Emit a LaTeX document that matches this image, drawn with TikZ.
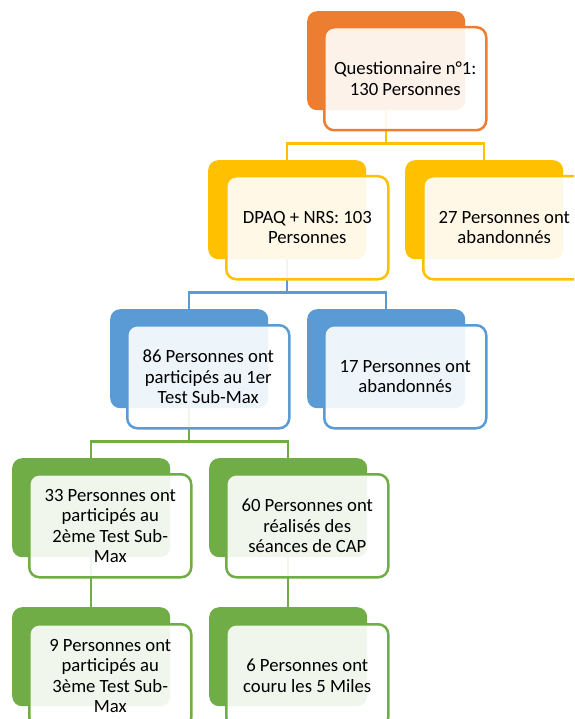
\documentclass[tikz,border=0pt]{standalone}
\usepackage{fontspec}
\setmainfont{Carlito}
\definecolor{corange}{HTML}{ED7D31}
\definecolor{cjaune}{HTML}{FFC000}
\definecolor{cbleu}{HTML}{5B9BD5}
\definecolor{cvert}{HTML}{70AD47}
\tikzset{
  fond/.style={fill=#1, rounded corners=10pt, minimum width=158pt,
    minimum height=99pt, inner sep=0pt, anchor=north west},
  carte/.style={draw=#1, line width=2.5pt, fill=white, fill opacity=0.9,
    text opacity=1, text=black, rounded corners=10pt, minimum width=162pt,
    minimum height=103pt, inner sep=2pt, anchor=north west, align=center},
  lien/.style={draw=#1, line width=2.5pt}
}
\begin{document}
\begin{tikzpicture}[x=1pt,y=-1pt,font=\fontsize{18.7}{20.5}\selectfont]
  \clip (0,0) rectangle (574,719);

  % fonds
  \node[fond=corange] (questf) at (307,11) {};
  \node[fond=cjaune] (dpaqf) at (208,160) {};
  \node[fond=cjaune] (aband1f) at (405,160) {};
  \node[fond=cbleu] (part1f) at (110,309) {};
  \node[fond=cbleu] (aband2f) at (307,309) {};
  \node[fond=cvert] (part2f) at (12,458) {};
  \node[fond=cvert] (capf) at (209,458) {};
  \node[fond=cvert] (part3f) at (12,607) {};
  \node[fond=cvert] (milesf) at (209,607) {};

  % liens
  \draw[lien=cjaune] (questf.south) -- ++(0,33) -| (dpaqf.north);
  \draw[lien=cjaune] (questf.south) -- ++(0,33) -| (aband1f.north);
  \draw[lien=cbleu] (dpaqf.south) -- ++(0,33) -| (part1f.north);
  \draw[lien=cbleu] (dpaqf.south) -- ++(0,33) -| (aband2f.north);
  \draw[lien=cvert] (part1f.south) -- ++(0,33) -| (part2f.north);
  \draw[lien=cvert] (part1f.south) -- ++(0,33) -| (capf.north);
  \draw[lien=cvert] (part2f.south) -- (part3f.north);
  \draw[lien=cvert] (capf.south) -- (milesf.north);

  % cartes
  \node[carte=corange] (quest) at (323,26) {Questionnaire n°1:\\130 Personnes};
  \node[carte=cjaune] (dpaq) at (225,175) {DPAQ + NRS: 103\\Personnes};
  \node[carte=cjaune] (aband1) at (422,175) {27 Personnes ont\\abandonnés};
  \node[carte=cbleu] (part1) at (126,324) {86 Personnes ont\\participés au 1er\\Test Sub-Max};
  \node[carte=cbleu] (aband2) at (323,324) {17 Personnes ont\\abandonnés};
  \node[carte=cvert] (part2) at (28,473) {33 Personnes ont\\participés au\\2ème Test Sub-\\Max};
  \node[carte=cvert] (cap) at (225,473) {60 Personnes ont\\réalisés des\\séances de CAP};
  \node[carte=cvert] (part3) at (28,623) {9 Personnes ont\\participés au\\3ème Test Sub-\\Max};
  \node[carte=cvert] (miles) at (225,623) {6 Personnes ont\\couru les 5 Miles};
\end{tikzpicture}
\end{document}
